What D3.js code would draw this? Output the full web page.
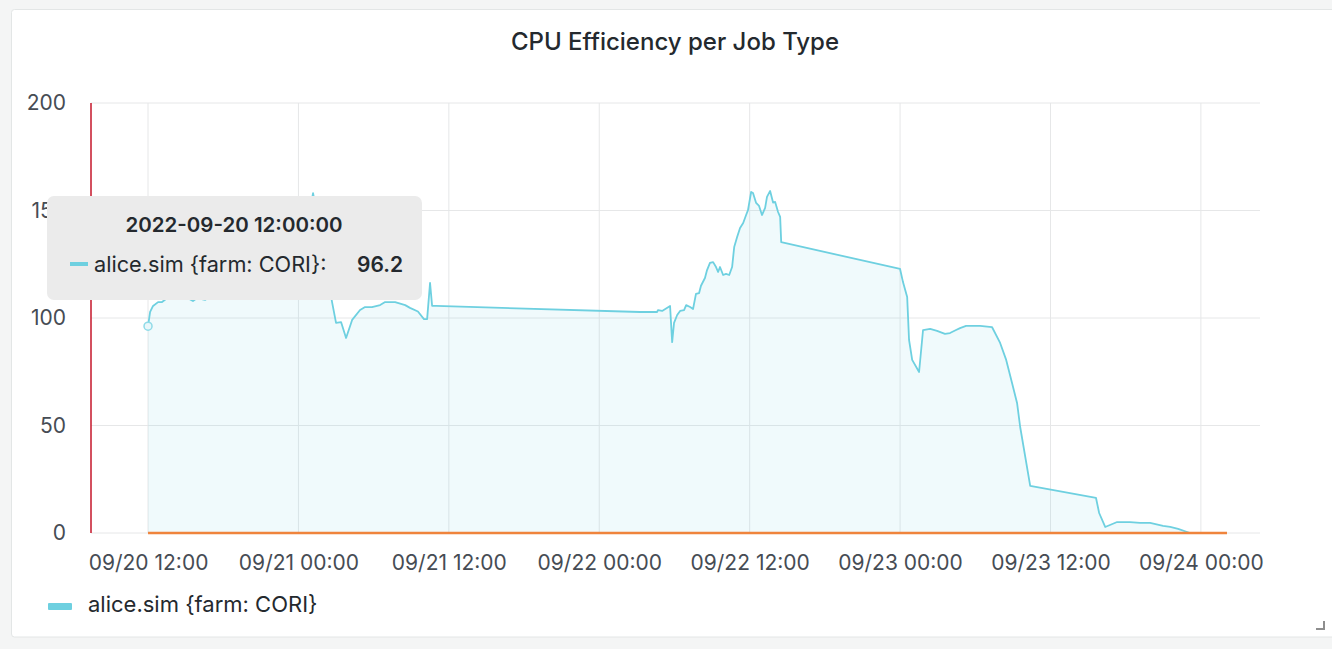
<!DOCTYPE html>
<html>
<head>
<meta charset="utf-8">
<script src="https://cdn.jsdelivr.net/npm/d3@7"></script>
<style>
  body { margin: 0; background: #f4f5f5; font-family: Inter, Roboto, sans-serif; }
  svg { display: block; }
</style>
</head>
<body>
<div id="chart"></div>
<script>
// series
const simTimes = [
  "2022-09-20 12:00", "2022-09-20 12:10", "2022-09-20 12:24", "2022-09-20 12:48", "2022-09-20 13:07",
  "2022-09-20 13:45", "2022-09-20 14:33", "2022-09-20 15:35", "2022-09-20 15:55", "2022-09-20 16:33",
  "2022-09-20 17:21", "2022-09-20 18:33", "2022-09-20 19:44", "2022-09-20 20:56", "2022-09-20 22:08",
  "2022-09-20 23:20", "2022-09-21 00:08", "2022-09-21 00:46", "2022-09-21 01:10", "2022-09-21 01:29",
  "2022-09-21 02:07", "2022-09-21 02:41", "2022-09-21 03:00", "2022-09-21 03:24", "2022-09-21 03:48",
  "2022-09-21 04:17", "2022-09-21 04:55", "2022-09-21 05:19", "2022-09-21 05:52", "2022-09-21 06:31",
  "2022-09-21 06:55", "2022-09-21 07:43", "2022-09-21 08:31", "2022-09-21 08:54", "2022-09-21 09:32",
  "2022-09-21 10:01", "2022-09-21 10:16", "2022-09-21 10:30", "2022-09-21 10:40", "2022-09-21 10:59",
  "2022-09-22 03:15", "2022-09-22 04:37", "2022-09-22 04:41", "2022-09-22 05:01", "2022-09-22 05:39",
  "2022-09-22 05:49", "2022-09-22 05:58", "2022-09-22 06:13", "2022-09-22 06:27", "2022-09-22 06:46",
  "2022-09-22 06:56", "2022-09-22 07:15", "2022-09-22 07:29", "2022-09-22 07:43", "2022-09-22 07:58",
  "2022-09-22 08:07", "2022-09-22 08:26", "2022-09-22 08:36", "2022-09-22 08:50", "2022-09-22 09:05",
  "2022-09-22 09:19", "2022-09-22 09:29", "2022-09-22 09:38", "2022-09-22 09:53", "2022-09-22 10:07",
  "2022-09-22 10:22", "2022-09-22 10:36", "2022-09-22 10:46", "2022-09-22 11:00", "2022-09-22 11:14",
  "2022-09-22 11:29", "2022-09-22 11:43", "2022-09-22 11:52", "2022-09-22 12:07", "2022-09-22 12:16",
  "2022-09-22 12:31", "2022-09-22 12:45", "2022-09-22 12:59", "2022-09-22 13:14", "2022-09-22 13:23",
  "2022-09-22 13:38", "2022-09-22 13:52", "2022-09-22 14:02", "2022-09-22 14:16", "2022-09-22 14:26",
  "2022-09-22 14:31", "2022-09-23 00:00", "2022-09-23 00:14", "2022-09-23 00:34", "2022-09-23 00:43",
  "2022-09-23 00:58", "2022-09-23 01:31", "2022-09-23 01:50", "2022-09-23 02:24", "2022-09-23 02:57",
  "2022-09-23 03:35", "2022-09-23 03:59", "2022-09-23 04:28", "2022-09-23 04:47", "2022-09-23 05:16",
  "2022-09-23 06:23", "2022-09-23 07:20", "2022-09-23 07:59", "2022-09-23 08:28", "2022-09-23 08:56",
  "2022-09-23 09:20", "2022-09-23 09:35", "2022-09-23 10:23", "2022-09-23 15:38", "2022-09-23 15:53",
  "2022-09-23 16:22", "2022-09-23 17:19", "2022-09-23 18:21", "2022-09-23 19:09", "2022-09-23 19:57",
  "2022-09-23 20:59", "2022-09-23 21:33", "2022-09-23 22:11", "2022-09-23 23:08", "2022-09-24 02:05"
];
const simValues = [
  96.2, 102.8, 105.6, 107.4, 107.4,
  110.2, 111.2, 107.9, 109.3, 108.4,
  112.1, 113.0, 112.1, 114.0, 115.3,
  117.7, 127.0, 145.6, 158.1, 147.9,
  127.0, 107.4, 97.7, 98.1, 90.7,
  99.1, 103.7, 105.1, 105.1, 106.0,
  107.4, 107.4, 106.0, 104.7, 103.0,
  99.5, 99.5, 116.3, 105.6, 105.6,
  102.8, 102.8, 103.7, 103.3, 105.6,
  88.8, 97.7, 101.4, 103.3, 103.7,
  106.0, 105.1, 104.2, 111.2, 111.6,
  115.0, 118.6, 122.3, 125.6, 126.0,
  123.7, 121.4, 123.7, 120.0, 120.5,
  120.0, 123.7, 133.0, 137.7, 141.9,
  144.2, 147.9, 150.2, 158.6, 158.1,
  153.5, 152.1, 147.9, 151.2, 156.3,
  159.1, 153.7, 154.0, 149.3, 147.0,
  135.3, 122.8, 116.7, 109.8, 89.8,
  80.5, 74.9, 94.4, 94.9, 94.0,
  92.6, 93.0, 94.4, 95.3, 96.3,
  96.3, 95.8, 88.4, 80.5, 69.8,
  60.5, 49.3, 21.9, 16.3, 9.3,
  2.8, 5.1, 5.1, 4.7, 4.7,
  3.3, 2.8, 1.9, 0, 0
];
const baseTimes = ["2022-09-20 12:00", "2022-09-24 02:05"];
const baseValues = [0, 0];
const yTicks = [0, 50, 100, 150, 200];
const timeDomain = ["2022-09-20 07:27", "2022-09-24 04:43"];
const seriesName = "alice.sim {farm: CORI}";
const hoverIndex = 0;

const W = 1332, H = 649;
const font = "Inter, Roboto, sans-serif";
const parse = d3.timeParse("%Y-%m-%d %H:%M");
const sim = simTimes.map((t, i) => ({ t: parse(t), v: simValues[i] }));
const base = baseTimes.map((t, i) => ({ t: parse(t), v: baseValues[i] }));

const svg = d3.select("#chart").append("svg").attr("width", W).attr("height", H)
  .attr("font-family", font);

// panel
svg.append("rect").attr("x", 11.5).attr("y", 9.5).attr("width", 1330).attr("height", 627.5)
  .attr("rx", 3).attr("fill", "#fff").attr("stroke", "#e3e6e6");

svg.append("text").attr("x", 675).attr("y", 50).attr("text-anchor", "middle")
  .attr("font-size", 24).attr("font-weight", 500).attr("fill", "#24292e")
  .text("CPU Efficiency per Job Type");

const x = d3.scaleTime().domain(timeDomain.map(parse)).range([91, 1260]);
const y = d3.scaleLinear().domain([0, 200]).range([533, 103]);

// grid
const xTicks = x.ticks(d3.timeHour.every(12));
svg.append("g").selectAll("line").data(yTicks).enter().append("line")
  .attr("x1", 91).attr("x2", 1260).attr("y1", d => y(d)).attr("y2", d => y(d))
  .attr("stroke", "#e6e7e8");
svg.append("g").selectAll("line").data(xTicks).enter().append("line")
  .attr("x1", d => x(d)).attr("x2", d => x(d)).attr("y1", 103).attr("y2", 533)
  .attr("stroke", "#e6e7e8");

// axes (labels only)
const yAxis = svg.append("g").attr("transform", "translate(66,0)")
  .call(d3.axisLeft(y).tickValues(yTicks).tickSize(0).tickPadding(0));
const xAxis = svg.append("g").attr("transform", "translate(0,555)")
  .call(d3.axisBottom(x).tickValues(xTicks).tickSize(0).tickPadding(0)
    .tickFormat(d3.timeFormat("%m/%d %H:%M")));
[yAxis, xAxis].forEach(a => {
  a.select(".domain").remove();
  a.selectAll("text").attr("font-family", font).attr("font-size", 21).attr("fill", "#464c54");
});

// series
const area = d3.area().x(d => x(d.t)).y0(y(0)).y1(d => y(d.v));
const line = d3.line().x(d => x(d.t)).y(d => y(d.v));
svg.append("path").datum(sim).attr("d", area).attr("fill", "#6ed0e0").attr("fill-opacity", 0.1);
svg.append("path").datum(sim).attr("d", line).attr("fill", "none")
  .attr("stroke", "#6ed0e0").attr("stroke-width", 1.8).attr("stroke-linejoin", "round");
svg.append("path").datum(base).attr("d", line).attr("fill", "none")
  .attr("stroke", "#ef843c").attr("stroke-width", 2.5);

// red annotation line at panel start
svg.append("line").attr("x1", x(parse(timeDomain[0]))).attr("x2", x(parse(timeDomain[0])))
  .attr("y1", 103).attr("y2", 533).attr("stroke", "#c4162a").attr("stroke-width", 1.5);

// hover marker
const hp = sim[hoverIndex];
svg.append("circle").attr("cx", x(hp.t)).attr("cy", y(hp.v)).attr("r", 4)
  .attr("fill", "#e9f7fa").attr("stroke", "#8fdbe8").attr("stroke-width", 1.5);

// tooltip
const tip = svg.append("g");
tip.append("rect").attr("x", 47).attr("y", 196).attr("width", 375).attr("height", 104)
  .attr("rx", 7).attr("fill", "#ebebeb");
tip.append("text").attr("x", 234).attr("y", 232).attr("text-anchor", "middle")
  .attr("font-size", 20.5).attr("font-weight", 600).attr("fill", "#24292e")
  .text(d3.timeFormat("%Y-%m-%d %H:%M:%S")(hp.t));
tip.append("rect").attr("x", 70).attr("y", 262).attr("width", 18).attr("height", 4)
  .attr("fill", "#6ed0e0");
tip.append("text").attr("x", 94).attr("y", 272).attr("font-size", 21.7).attr("fill", "#24292e")
  .text(seriesName + ":");
tip.append("text").attr("x", 403).attr("y", 272).attr("text-anchor", "end")
  .attr("font-size", 21).attr("font-weight", 600).attr("fill", "#24292e")
  .text(hp.v.toFixed(1));

// legend
svg.append("rect").attr("x", 48).attr("y", 603).attr("width", 24).attr("height", 7)
  .attr("rx", 1).attr("fill", "#6ed0e0");
svg.append("text").attr("x", 88).attr("y", 612).attr("font-size", 22).attr("fill", "#24292e")
  .text(seriesName);

// resize handle
svg.append("path").attr("d", "M1324,621 V629 H1316").attr("fill", "none")
  .attr("stroke", "#8e8e8e").attr("stroke-width", 2);
</script>
</body>
</html>
